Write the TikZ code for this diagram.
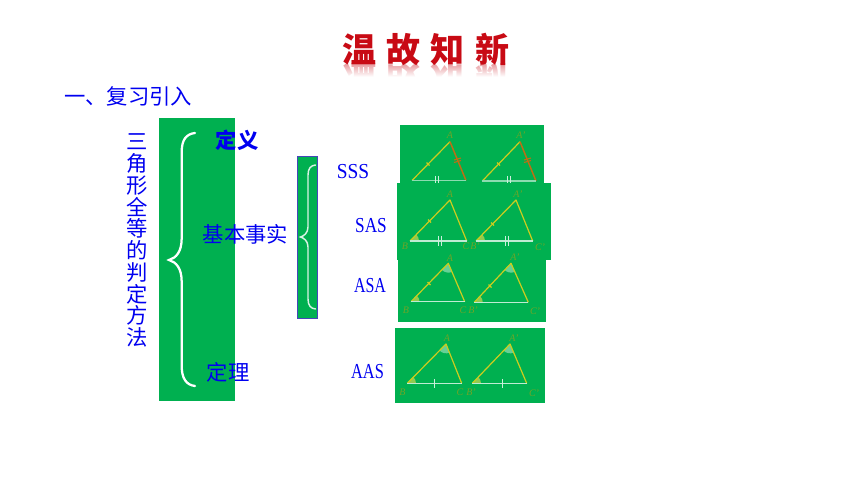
\documentclass[tikz,border=0pt]{standalone}
\usepackage{fontspec}
\setmainfont{Liberation Serif}
\newfontfamily\cjk{Noto Sans CJK SC}
\definecolor{pgreen}{RGB}{0,176,80}
\definecolor{tblue}{RGB}{0,0,240}
\definecolor{tline}{RGB}{205,205,30}
\definecolor{tred}{RGB}{200,10,20}
\definecolor{lab}{RGB}{110,165,40}
\definecolor{bred}{RGB}{190,110,20}
\tikzset{
  panel/.style={fill=pgreen,draw=none},
  brc/.style={draw=white,line width=1.7pt,line cap=round,fill=none},
  cjktext/.style={text=tblue,font=\cjk\fontsize{16}{17}\selectfont,inner sep=0pt},
  abbr/.style={text=tblue,font=\fontsize{16}{17}\selectfont,inner sep=0pt},
  titlech/.style={text=tred,font=\cjk\bfseries\fontsize{25.5}{26}\selectfont,inner sep=0pt},
  tri/.style={draw=tline,line width=0.9pt,line join=round},
  basew/.style={draw=white!75!pgreen,line width=0.9pt},
  wedgeg/.style={fill=tline!60!pgreen!85!white,draw=none},
  wedgeb/.style={fill=white!40!pgreen,draw=none},
  tick/.style={draw=white!80!pgreen,line width=0.7pt},
  sidetick/.style={draw=tline,line width=1pt},
  vlab/.style={text=lab,font=\itshape\fontsize{7.5}{8}\selectfont,inner sep=0pt},
}
\newcommand{\trianglefig}[3]{%
  \draw[tri] (#2) -- (#1) -- (#3);
  \draw[basew] (#2) -- (#3);
}
\begin{document}
\begin{tikzpicture}[x=0.75pt,y=-0.75pt]
\useasboundingbox (0,0) rectangle (860,484);
\fill[white] (0,0) rectangle (860,484);

% title reflection
\begin{scope}
  \clip (335,64) rectangle (520,77);
  \foreach \c/\x in {温/359,故/403,知/447.5,新/492}{
    \node[titlech,opacity=.45,yscale=-1] at (\x,79) {\c};
  }
  \foreach \i in {0,...,12}{
    \fill[white,opacity={0.12+0.07*\i}] (335,{64+\i}) rectangle (520,{65+\i});
  }
\end{scope}
\node[titlech] (t1) at (359,49.5) {温};
\node[titlech] (t2) at (403,49.5) {故};
\node[titlech] (t3) at (447.5,49.5) {知};
\node[titlech] (t4) at (492,49.5) {新};

\node[cjktext,anchor=west] (intro) at (64,96) {一、复习引入};

% green panels
\fill[panel] (159,118) rectangle (235,401);
\draw[fill=pgreen,draw=blue!45!gray,line width=0.6pt] (297,156) rectangle (317,318);
\fill[panel] (399.5,125) rectangle (544,185);
\fill[panel] (398,260) rectangle (546,322);
\fill[panel] (394.7,328) rectangle (545,403);

% braces
\draw[brc] (195,133) .. controls (186,134) and (181.7,140) .. (181.7,152) -- (181.7,238)
  .. controls (181.7,252) and (176,258) .. (169,260)
  .. controls (176,262) and (181.7,268) .. (181.7,282) -- (181.7,366)
  .. controls (181.7,378) and (186,385) .. (195,386);
\draw[brc,line width=1.1pt,draw=white!85!pgreen] (315.5,165) .. controls (311,165.5) and (308,168) .. (308,175) -- (308,227)
  .. controls (308,233) and (304,236) .. (300.5,237)
  .. controls (304,238) and (308,241) .. (308,247) -- (308,299)
  .. controls (308,306) and (311,308.5) .. (315.5,309);

% text
\foreach \c [count=\i from 0] in {三,角,形,全,等,的,判,定,方,法}{
  \node[cjktext] (v\i) at (137,{142+21.7*\i}) {\c};
}
\node[cjktext,font=\cjk\bfseries\fontsize{16}{17}\selectfont] (def) at (237,140) {定义};
\node[cjktext] (basic) at (245.5,234) {基本事实};
\node[cjktext] (thm) at (228,372) {定理};
\node[abbr,xscale=.91] (sss) at (353,171.5) {SSS};
\node[abbr,xscale=.81] (sas) at (371,225.5) {SAS};
\node[abbr,xscale=.75] (asa) at (370,286) {ASA};
\node[abbr,xscale=.77] (aas) at (367.5,372) {AAS};

% panel 1
\draw[tri] (412,180.5) -- (450,141.7);
\draw[draw=bred,line width=1.1pt] (450,141.7) -- (466,180.5);
\draw[draw=white!55!pgreen,line width=.9pt] (412,180.5) -- (466,180.5);
\draw[tri] (482.3,181) -- (520,141.7);
\draw[draw=bred,line width=1.1pt] (520,141.7) -- (536,181);
\draw[draw=white!55!pgreen,line width=.9pt] (482.3,181) -- (536,181);
\foreach \x/\y in {428/164,498.5/164}{\draw[sidetick] (\x-1.5,\y-1.5) -- (\x+1.5,\y+1.5);}
\foreach \x/\y in {457.5/159,527.5/159}{
  \draw[draw=bred,line width=.8pt] (\x-3.5,\y+1) -- (\x+3.5,\y-1) (\x-3.5,\y+3.5) -- (\x+3.5,\y+1.5);}
\foreach \x in {435.5,438,507.5,510}{\draw[tick] (\x,176) -- (\x,184);}
\node[vlab] (a1) at (450,135) {A};
\node[vlab] (a1p) at (521,135) {A'};

% panel 2 covers the foot of panel 1 and the head of panel 3
\fill[panel] (397,183.5) rectangle (551,260.5);
\fill[wedgeg] (410,241) -- (419,241) arc (0:-46:9) -- cycle;
\fill[wedgeg] (476,241) -- (485,241) arc (0:-46:9) -- cycle;
\trianglefig{450,200}{410,241}{466.7,241}
\trianglefig{516,200}{476,241}{532.7,241}
\foreach \x/\y in {429.5/221,492.5/224}{\draw[sidetick] (\x-1.5,\y-1.5) -- (\x+1.5,\y+1.5);}
\foreach \x in {438,441,505.5,508.5}{\draw[tick] (\x,236) -- (\x,246);}
\node[vlab] (a2) at (450,194) {A};
\node[vlab] (a2p) at (518,194) {A'};
\node[vlab] (b2) at (405,246) {B};
\node[vlab] (c2) at (466,246) {C};
\node[vlab] (b2p) at (475,246) {B'};
\node[vlab] (c2p) at (540,247) {C'};

% panel 3
\fill[wedgeg] (411,301.7) -- (419.5,301.7) arc (0:-46:8.5) -- cycle;
\fill[wedgeg] (474.3,302.3) -- (482.8,302.3) arc (0:-46:8.5) -- cycle;
\fill[wedgeb] (448.3,263.3) -- (442,270) arc (135:67:9) -- cycle;
\fill[wedgeb] (511,263.3) -- (504.7,270) arc (135:67:9) -- cycle;
\trianglefig{448.3,263.3}{411,301.7}{464.7,301.7}
\trianglefig{511,263.3}{474.3,302.3}{528.3,302.3}
\foreach \x/\y in {429/283.5,490/286}{\draw[sidetick] (\x-1.5,\y-1.5) -- (\x+1.5,\y+1.5);}
\node[vlab] (a3) at (450,258) {A};
\node[vlab] (a3p) at (515,257.5) {A'};
\node[vlab] (b3) at (406,310) {B};
\node[vlab] (c3) at (463,310) {C};
\node[vlab] (b3p) at (473,310) {B'};
\node[vlab] (c3p) at (535,311) {C'};

% panel 4
\fill[wedgeg] (407.3,383.3) -- (416,383.3) arc (0:-46:8.7) -- cycle;
\fill[wedgeg] (472.3,383.3) -- (481,383.3) arc (0:-46:8.7) -- cycle;
\fill[wedgeb] (446,344) -- (439.7,350.7) arc (135:67:9) -- cycle;
\fill[wedgeb] (510,344) -- (503.7,350.7) arc (135:67:9) -- cycle;
\trianglefig{446,344}{407.3,383.3}{461.7,383.3}
\trianglefig{510,344}{472.3,383.3}{526.7,383.3}
\foreach \x in {434,502}{\draw[tick] (\x,379) -- (\x,388);}
\node[vlab] (a4) at (447,338) {A};
\node[vlab] (a4p) at (514,338) {A'};
\node[vlab] (b4) at (402.5,392) {B};
\node[vlab] (c4) at (460,392) {C};
\node[vlab] (b4p) at (471,392) {B'};
\node[vlab] (c4p) at (534,393) {C'};
\end{tikzpicture}
\end{document}
